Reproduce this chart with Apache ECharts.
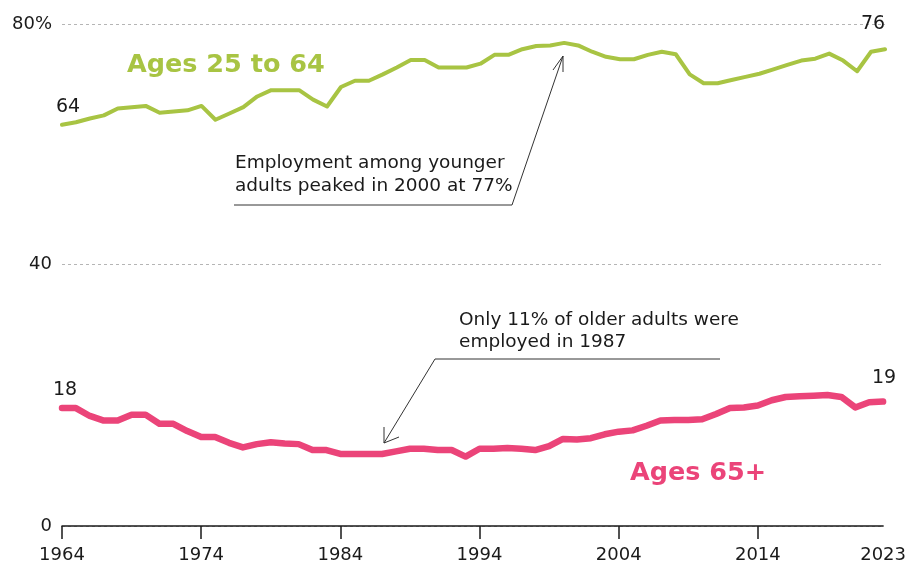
<!DOCTYPE html>
<html>
<head>
<meta charset="utf-8">
<script src="https://cdn.jsdelivr.net/npm/echarts@6/dist/echarts.min.js"></script>
<style>
  html, body { margin: 0; padding: 0; background: #ffffff; }
  #chart { width: 909px; height: 567px; }
</style>
</head>
<body>
<div id="chart"></div>
<script>
// Employment rate by age group, 1964-2023 (%)
const years = [
  '1964','1965','1966','1967','1968','1969','1970','1971','1972','1973',
  '1974','1975','1976','1977','1978','1979','1980','1981','1982','1983',
  '1984','1985','1986','1987','1988','1989','1990','1991','1992','1993',
  '1994','1995','1996','1997','1998','1999','2000','2001','2002','2003',
  '2004','2005','2006','2007','2008','2009','2010','2011','2012','2013',
  '2014','2015','2016','2017','2018','2019','2020','2021','2022','2023'
];

const ages25to64 = [
  64, 64.4, 65.0, 65.5, 66.6, 66.8, 67.0, 65.9, 66.1, 66.3,
  67.0, 64.8, 65.8, 66.8, 68.5, 69.5, 69.5, 69.5, 68.0, 66.9,
  70.0, 71.0, 71.0, 72.0, 73.1, 74.3, 74.3, 73.1, 73.1, 73.1,
  73.7, 75.1, 75.1, 76.0, 76.5, 76.6, 77, 76.6, 75.6, 74.8,
  74.4, 74.4, 75.1, 75.6, 75.2, 72.0, 70.6, 70.6, 71.1, 71.6,
  72.1, 72.8, 73.5, 74.2, 74.5, 75.3, 74.2, 72.5, 75.6, 76
];

const ages65plus = [
  18, 18, 16.8, 16.1, 16.1, 17.0, 17.0, 15.6, 15.6, 14.5,
  13.6, 13.6, 12.7, 12.0, 12.5, 12.8, 12.6, 12.5, 11.6, 11.6,
  11.0, 11.0, 11.0, 11, 11.4, 11.8, 11.8, 11.6, 11.6, 10.6,
  11.8, 11.8, 11.9, 11.8, 11.6, 12.2, 13.3, 13.2, 13.4, 14.0,
  14.4, 14.6, 15.3, 16.1, 16.2, 16.2, 16.3, 17.1, 18.0, 18.1,
  18.4, 19.2, 19.7, 19.8, 19.9, 20.0, 19.7, 18.1, 18.9, 19
];

const xLabelYears = ['1964', '1974', '1984', '1994', '2004', '2014', '2023'];
const xTickYears = ['1964', '1974', '1984', '1994', '2004', '2014'];
const upperRange = [40, 80];   // panel for ages 25 to 64
const lowerRange = [0, 40];    // panel for ages 65+

const GREEN = '#a8c443';
const PINK = '#eb4479';
const INK = '#1a1a1a';
const FONT = '"DejaVu Sans", sans-serif';
const GRID_LINE = { color: '#b5b5b5', width: 1, type: [3, 3] };

// Label the first and last point of a series with its value
function withEndLabels(values, firstOffset, lastOffset) {
  return values.map((v, i) => {
    if (i === 0 || i === values.length - 1) {
      return {
        value: v,
        label: {
          show: true,
          position: 'top',
          offset: i === 0 ? firstOffset : lastOffset,
          formatter: String(Math.round(v)),
          color: INK,
          fontSize: 19,
          fontFamily: FONT
        }
      };
    }
    return v;
  });
}

const chart = echarts.init(document.getElementById('chart'), null, { renderer: 'canvas' });

chart.setOption({
  animation: false,
  backgroundColor: '#ffffff',
  grid: [
    { left: 62, right: 24, top: 24, height: 252, containLabel: false },
    { left: 62, right: 24, top: 264, bottom: 41, containLabel: false }
  ],
  xAxis: [
    {
      gridIndex: 0,
      type: 'category',
      data: years,
      boundaryGap: false,
      show: false
    },
    {
      gridIndex: 1,
      type: 'category',
      data: years,
      boundaryGap: false,
      axisLine: { show: true, lineStyle: { color: INK, width: 1.5 } },
      axisTick: {
        show: true,
        length: 13,
        lineStyle: { color: INK, width: 1.5 },
        interval: (idx, val) => xTickYears.includes(val)
      },
      axisLabel: {
        interval: (idx, val) => xLabelYears.includes(val),
        color: INK,
        fontSize: 18,
        fontFamily: FONT,
        margin: 20,
        showMaxLabel: true
      },
      splitLine: { show: false }
    }
  ],
  yAxis: [
    {
      gridIndex: 0,
      type: 'value',
      min: upperRange[0],
      max: upperRange[1],
      interval: 40,
      axisLine: { show: false },
      axisTick: { show: false },
      axisLabel: {
        color: INK,
        fontSize: 18,
        fontFamily: FONT,
        margin: 10,
        formatter: v => (v === upperRange[1] ? v + '%' : '')
      },
      splitLine: { show: false }
    },
    {
      gridIndex: 1,
      type: 'value',
      min: lowerRange[0],
      max: lowerRange[1],
      interval: 40,
      axisLine: { show: false },
      axisTick: { show: false },
      axisLabel: {
        color: INK,
        fontSize: 18,
        fontFamily: FONT,
        margin: 10
      },
      splitLine: { show: true, lineStyle: GRID_LINE }
    }
  ],
  series: [
    {
      name: 'Ages 25 to 64',
      type: 'line',
      xAxisIndex: 0,
      yAxisIndex: 0,
      data: withEndLabels(ages25to64, [6, -3], [-12, -11]),
      symbol: 'circle',
      symbolSize: 0,
      showSymbol: true,
      showAllSymbol: true,
      lineStyle: { color: GREEN, width: 4, cap: 'round', join: 'round' },
      itemStyle: { color: GREEN },
      markLine: {
        silent: true,
        symbol: ['none', 'none'],
        label: { show: false },
        lineStyle: GRID_LINE,
        data: [{ yAxis: upperRange[1] }],
        z: 1
      },
      z: 3
    },
    {
      name: 'Ages 65+',
      type: 'line',
      xAxisIndex: 1,
      yAxisIndex: 1,
      data: withEndLabels(ages65plus, [3, -4], [1, -9]),
      symbol: 'circle',
      symbolSize: 0,
      showSymbol: true,
      showAllSymbol: true,
      lineStyle: { color: PINK, width: 6.5, cap: 'round', join: 'round' },
      itemStyle: { color: PINK },
      z: 3
    }
  ],
  graphic: [
    // series names
    {
      type: 'text', x: 127, y: 65,
      style: { text: 'Ages 25 to 64', fill: GREEN, font: 'bold 25.5px ' + FONT, verticalAlign: 'middle' }
    },
    {
      type: 'text', x: 630, y: 473,
      style: { text: 'Ages 65+', fill: PINK, font: 'bold 25.5px ' + FONT, verticalAlign: 'middle' }
    },
    // note on younger adults
    {
      type: 'text', x: 235, y: 152,
      style: {
        text: 'Employment among younger\nadults peaked in 2000 at 77%',
        fill: INK, font: '18.5px ' + FONT, lineHeight: 23, verticalAlign: 'top'
      }
    },
    {
      type: 'polyline',
      shape: { points: [[234, 205], [512, 205], [563, 56]] },
      style: { stroke: '#333333', lineWidth: 1, fill: null }
    },
    {
      type: 'polyline',
      shape: { points: [[553, 70], [563, 56], [563, 72]] },
      style: { stroke: '#333333', lineWidth: 1, fill: null }
    },
    // note on older adults
    {
      type: 'text', x: 459, y: 309,
      style: {
        text: 'Only 11% of older adults were\nemployed in 1987',
        fill: INK, font: '18.5px ' + FONT, lineHeight: 22, verticalAlign: 'top'
      }
    },
    {
      type: 'polyline',
      shape: { points: [[720, 359], [435, 359], [384, 443]] },
      style: { stroke: '#333333', lineWidth: 1, fill: null }
    },
    {
      type: 'polyline',
      shape: { points: [[384, 427], [384, 443], [399, 437]] },
      style: { stroke: '#333333', lineWidth: 1, fill: null }
    }
  ]
});
</script>
</body>
</html>
